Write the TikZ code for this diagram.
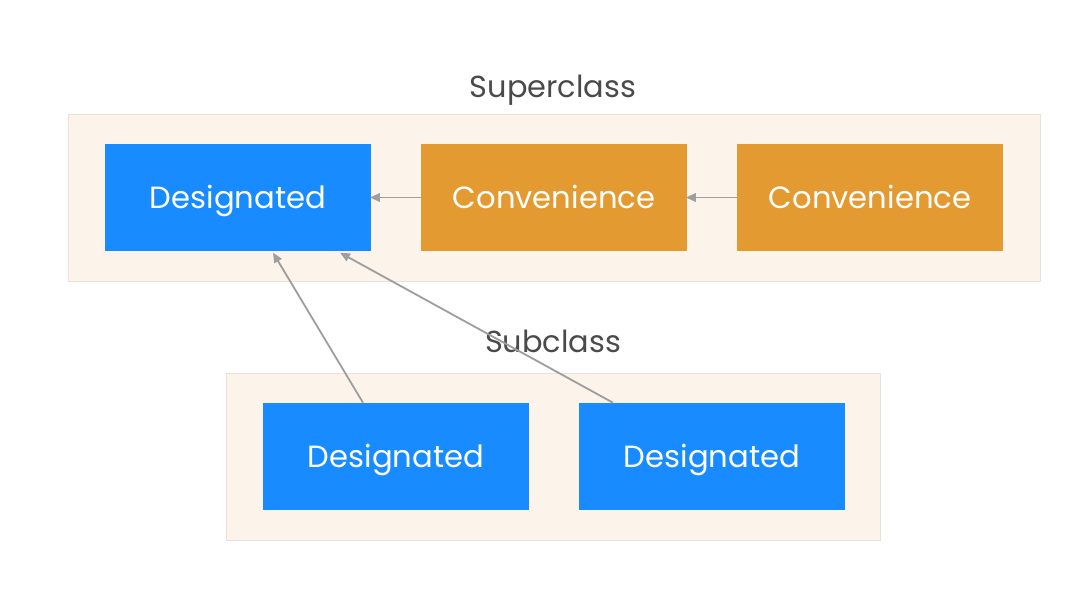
\documentclass[tikz,border=0pt]{standalone}
\usepackage{fontspec}
\setmainfont{Poppins}
\usetikzlibrary{positioning, arrows.meta}
\definecolor{PanelFill}{HTML}{FCF4EA}
\definecolor{PanelBorder}{HTML}{EAE2DA}
\definecolor{DesigBlue}{HTML}{178BFF}
\definecolor{ConvOrange}{HTML}{E39B31}
\definecolor{LinkGray}{HTML}{9E9E9E}
\definecolor{TitleGray}{HTML}{4A4A4A}

\begin{document}
\begin{tikzpicture}[x=0.025cm, y=-0.025cm,
    box/.style={minimum width=6.65cm, minimum height=2.675cm, inner sep=0pt,
      text=white, text height=1.5em, text depth=0pt,
      font=\fontsize{21.8}{24}\selectfont},
    desig/.style={box, fill=DesigBlue},
    conv/.style={box, fill=ConvOrange},
    panel/.style={fill=PanelFill, draw=PanelBorder, line width=0.6pt},
    title/.style={text=TitleGray, text height=1.5em, text depth=0pt,
      font=\fontsize{21.6}{24}\selectfont},
    link/.style={draw=LinkGray, line width=1.3pt, -{Triangle[length=7pt, width=6pt]}}]
  \useasboundingbox (0,0) rectangle (1076,605);

  % Panels
  \draw[panel] (68,114) rectangle (1040,281);
  \draw[panel] (226,373) rectangle (880,540);

  % Titles
  \node[title] (super) at (553,87) {Superclass};
  \node[title] (sub) at (553,342) {Subclass};

  % Superclass initializers
  \node[desig] (d1) at (238,197.5) {Designated};
  \node[conv] (c1) at (554,197.5) {Convenience};
  \node[conv] (c2) at (870,197.5) {Convenience};

  % Subclass initializers
  \node[desig] (s1) at (396,456.5) {Designated};
  \node[desig] (s2) at (712,456.5) {Designated};

  % Delegation
  \draw[link] (c1.west) -- ([xshift=-1pt]d1.east);
  \draw[link] (c2.west) -- ([xshift=-1pt]c1.east);
  \draw[link] ([xshift=-0.825cm]s1.north) -- ([xshift=0.875cm, yshift=-1pt]d1.south);
  \draw[link] ([xshift=-2.475cm]s2.north) -- ([xshift=2.55cm, yshift=-1pt]d1.south);
\end{tikzpicture}
\end{document}
